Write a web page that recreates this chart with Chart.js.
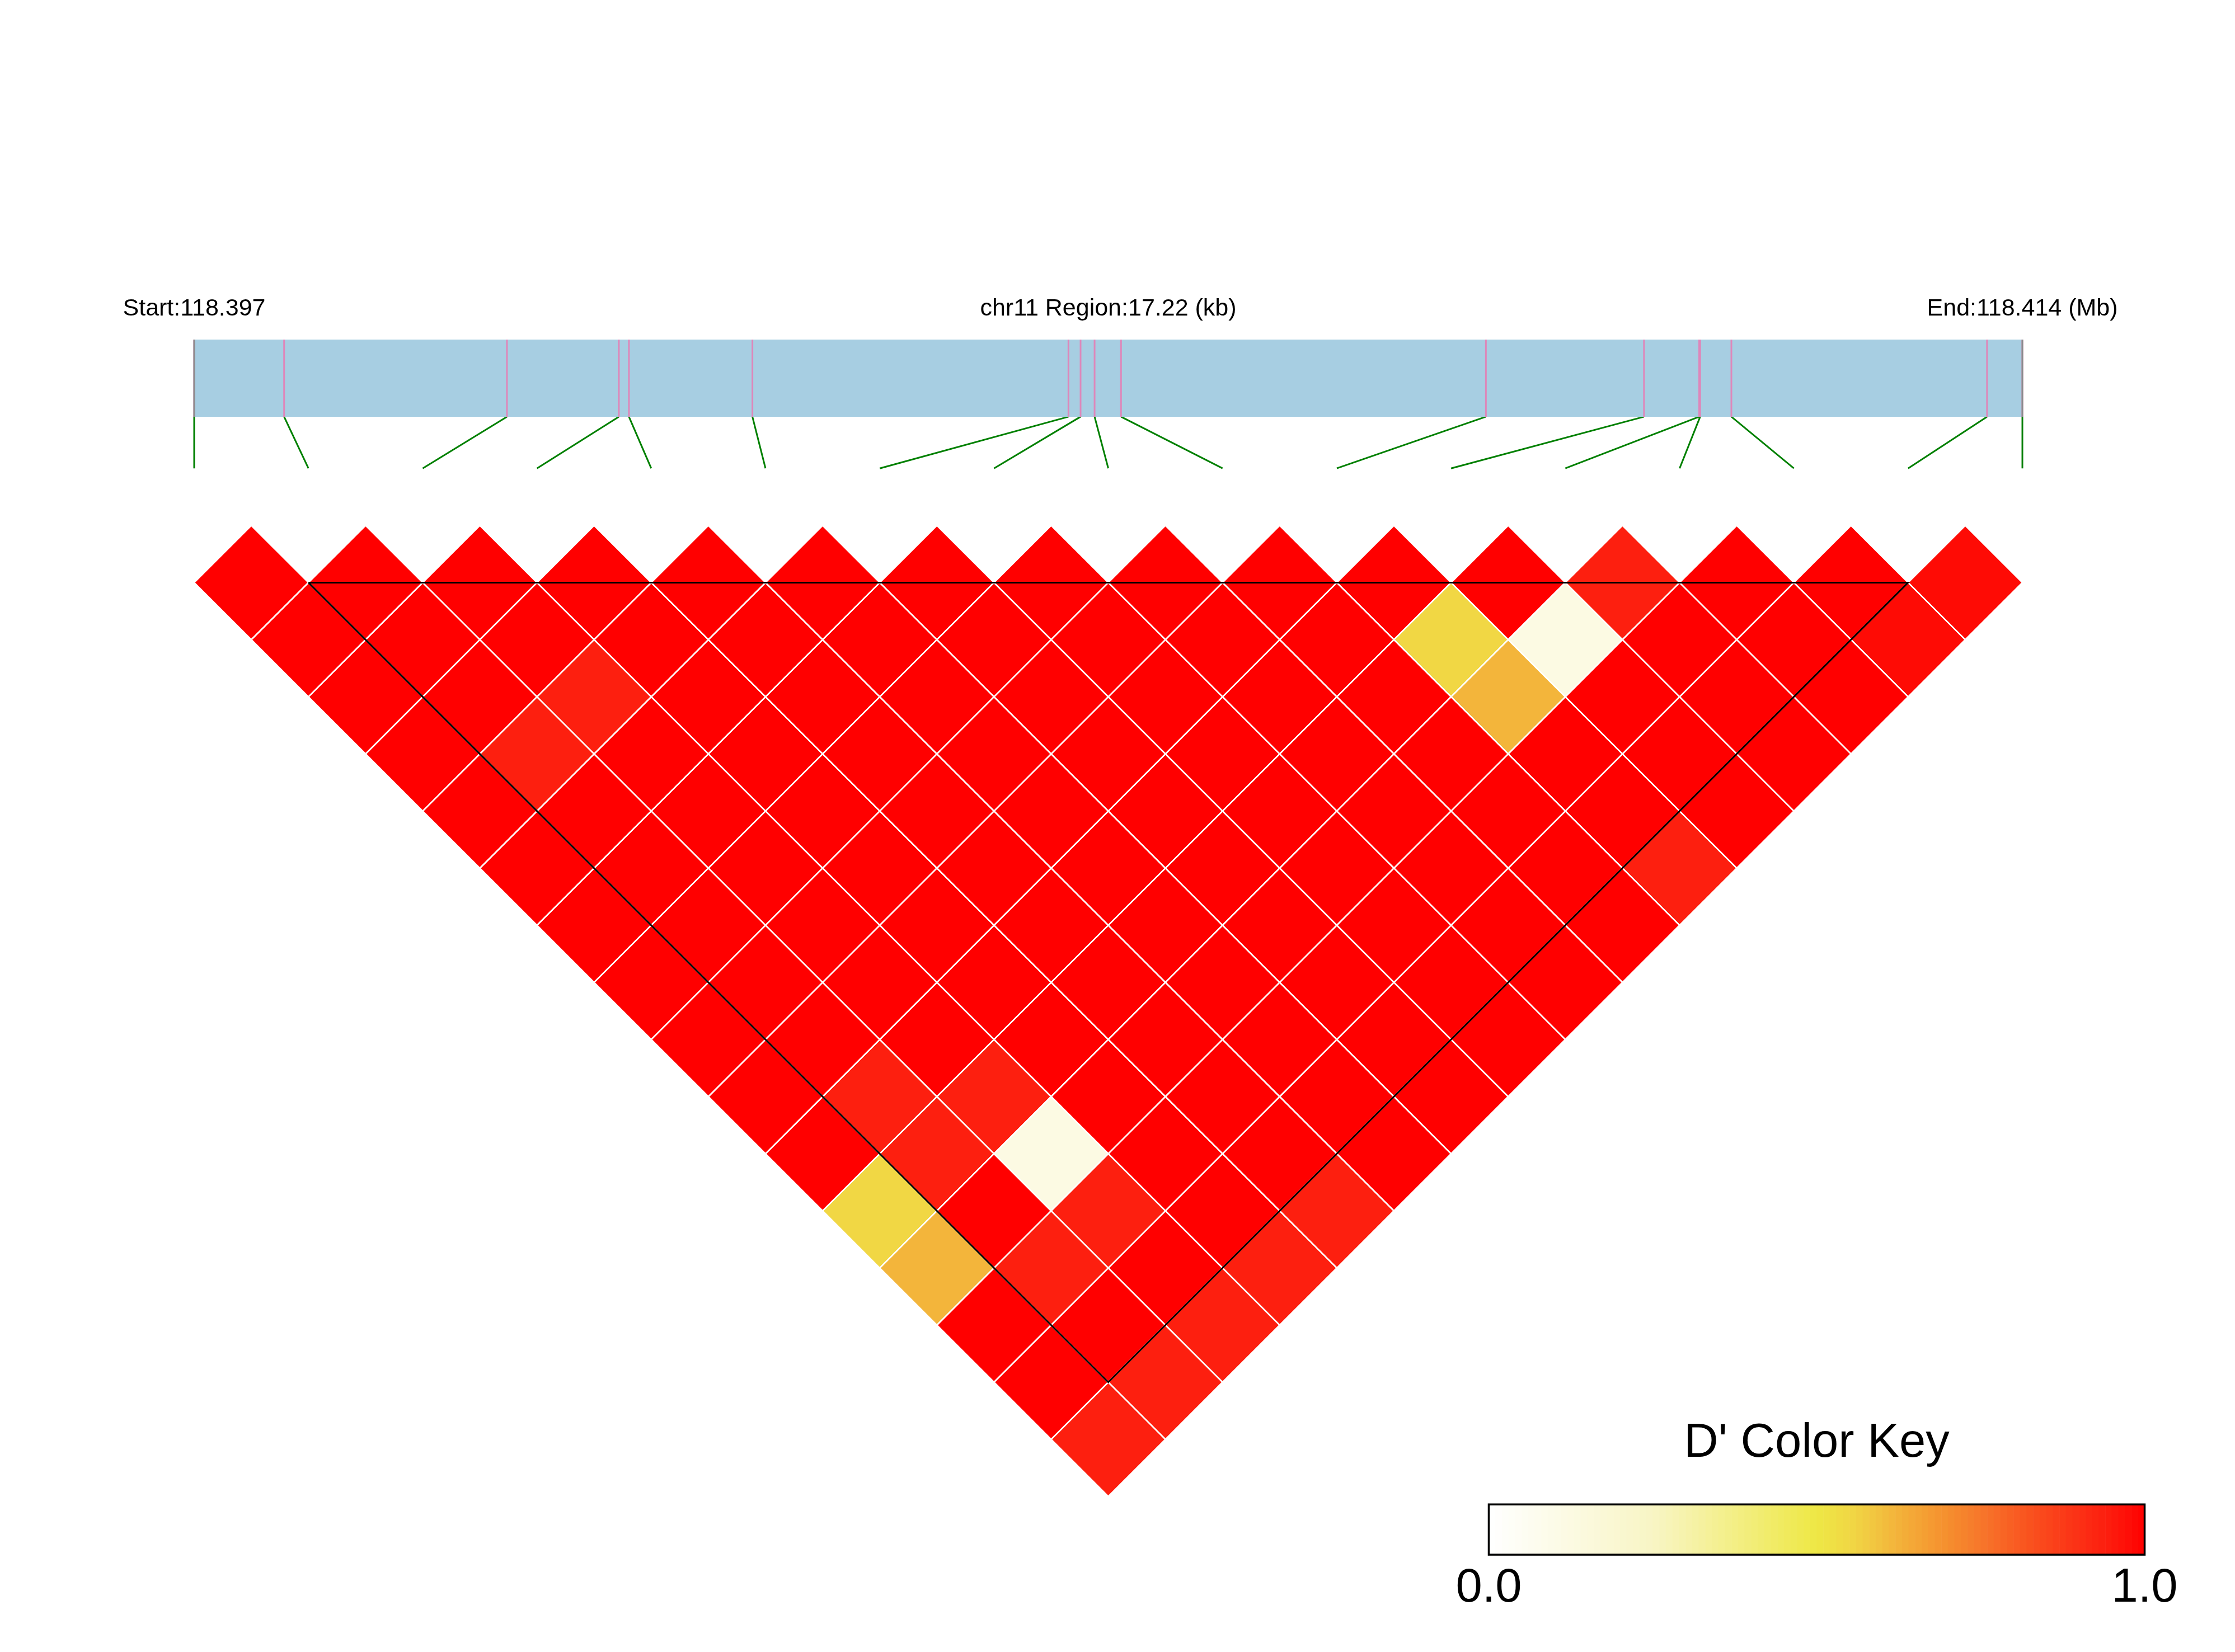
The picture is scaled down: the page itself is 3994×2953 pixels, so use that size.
<!DOCTYPE html>
<html>
<head>
<meta charset="utf-8">
<script src="https://cdn.jsdelivr.net/npm/chart.js@4.4.1/dist/chart.umd.min.js"></script>
<style>
  html, body { margin: 0; padding: 0; background: #ffffff; }
  #wrap { width: 3994px; height: 2953px; position: relative; }
</style>
</head>
<body>
<div id="wrap"><canvas id="c"></canvas></div>
<script>
// ---------------- DATA ----------------
const chromosome = 'chr11';
const regionStartMb = '118.397';
const regionEndMb = '118.414';
const regionKb = 17.22;
// SNP physical positions, kb from region start
const snpPosKb = [0, 0.847, 2.946, 4.000, 4.095, 5.258, 8.235, 8.349, 8.481, 8.730,
                  12.167, 13.656, 14.176, 14.185, 14.479, 16.887, 17.22];
// Pairwise D' : row i holds SNP pairs (i, j) for j = i+1 .. 16
const dPrimeRows = [
  [1, 1, 1, 1, 1, 1, 1, 1, 1, 1, 1, 0.55, 0.62, 1, 1, 0.94],
  [1, 1, 1, 0.94, 1, 1, 1, 1, 1, 0.94, 0.94, 1, 0.94, 1, 0.94],
  [1, 1, 0.94, 1, 1, 1, 1, 1, 1, 0.94, 0.12, 0.94, 1, 0.94],
  [1, 1, 1, 1, 1, 1, 1, 1, 1, 1, 1, 1, 0.94],
  [1, 1, 1, 1, 1, 1, 1, 1, 1, 1, 1, 0.94],
  [1, 1, 1, 1, 1, 1, 1, 1, 1, 1, 1],
  [1, 1, 1, 1, 1, 1, 1, 1, 1, 1],
  [1, 1, 1, 1, 1, 1, 1, 1, 1],
  [1, 1, 1, 1, 1, 1, 1, 1],
  [1, 1, 1, 1, 1, 1, 1],
  [1, 0.55, 0.62, 1, 1, 0.94],
  [1, 0.12, 1, 1, 1],
  [0.94, 1, 1, 1],
  [1, 1, 1],
  [1, 0.98],
  [0.98]
];
// LD block (first and last SNP index)
const blockSnps = [1, 15];
// colour key
const keyTitle = "D' Color Key";
const keyTickLabels = ['0.0', '1.0'];
const keyTickValues = [0, 1];
const colorStops = [
  [0.000, '#FFFFFF'], [0.250, '#F8F5C5'], [0.500, '#EEE845'], [0.560, '#F1D444'],
  [0.625, '#F3B23A'], [0.690, '#F5932F'], [0.756, '#F7742A'], [0.820, '#F9541F'],
  [0.887, '#FB3517'], [0.952, '#FD1A0D'], [1.000, '#FF0000']
];

// ---------------- LAYOUT (style only) ----------------
const W = 3994, H = 2953;
const X0 = 347, UNIT = 204.19, Y0 = 939.3;   // pixel of data (0,0) and px per data unit
const BAR_TOP = -1.627, BAR_BOT = -0.952, LINK_END = -0.5, HEAD_Y = -1.8365;
const KEY = { x0: 11.33, x1: 17.07, y0: 8.57, y1: 9.01, titleY: 8.153, tickY: 9.421 };
const FONT = '"Liberation Sans", Arial, Helvetica, sans-serif';

// ---------------- helpers ----------------
function hexToRgb(h) { return [parseInt(h.substr(1,2),16), parseInt(h.substr(3,2),16), parseInt(h.substr(5,2),16)]; }
function colorFor(v) {
  v = Math.max(0, Math.min(1, v));
  for (let k = 1; k < colorStops.length; k++) {
    const [t1, c1] = colorStops[k];
    if (v <= t1) {
      const [t0, c0] = colorStops[k-1];
      const f = (v - t0) / (t1 - t0);
      const a = hexToRgb(c0), b = hexToRgb(c1);
      const r = a.map((x, i) => Math.round(x + (b[i] - x) * f));
      return `rgb(${r[0]},${r[1]},${r[2]})`;
    }
  }
  return colorStops[colorStops.length-1][1];
}

const nGap = snpPosKb.length - 1;
const physX = snpPosKb.map(p => p / regionKb * nGap);

const cells = [];
dPrimeRows.forEach((row, i) => row.forEach((v, k) => {
  const j = i + 1 + k;
  cells.push({ x: (i + j) / 2, y: (j - i) / 2, v: v });
}));

const pinkData = [];
physX.forEach(p => { pinkData.push({x: p, y: BAR_TOP}, {x: p, y: BAR_BOT}, {x: p, y: NaN}); });
const edgeData = [
  {x: 0, y: BAR_TOP}, {x: 0, y: BAR_BOT}, {x: 0, y: NaN},
  {x: nGap, y: BAR_TOP}, {x: nGap, y: BAR_BOT}
];
const greenData = [];
physX.forEach((p, k) => { greenData.push({x: p, y: BAR_BOT}, {x: k, y: LINK_END}, {x: k, y: NaN}); });

const [ba, bb] = blockSnps;
const triData = [
  {x: ba, y: 0.5}, {x: bb, y: 0.5}, {x: (ba + bb) / 2, y: 0.5 + (bb - ba) / 2}, {x: ba, y: 0.5}
];

function halfDiag(chart) {
  const xs = chart.scales.x;
  return Math.abs(xs.getPixelForValue(0.5) - xs.getPixelForValue(0));
}

const annotPlugin = {
  id: 'annot',
  afterDatasetsDraw(chart) {
    const ctx = chart.ctx, xs = chart.scales.x, ys = chart.scales.y;
    ctx.save();
    ctx.fillStyle = '#000';
    ctx.textBaseline = 'alphabetic';
    ctx.textAlign = 'center';
    ctx.font = `43px ${FONT}`;
    const hy = ys.getPixelForValue(HEAD_Y);
    ctx.fillText('Start:' + regionStartMb, xs.getPixelForValue(0), hy);
    ctx.fillText(chromosome + ' Region:' + regionKb.toFixed(2) + ' (kb)', xs.getPixelForValue(nGap / 2), hy);
    ctx.fillText('End:' + regionEndMb + ' (Mb)', xs.getPixelForValue(nGap), hy);

    // colour key
    const kx0 = xs.getPixelForValue(KEY.x0), kx1 = xs.getPixelForValue(KEY.x1);
    const ky0 = ys.getPixelForValue(KEY.y0), ky1 = ys.getPixelForValue(KEY.y1);
    const steps = 100;
    for (let s = 0; s < steps; s++) {
      const a = kx0 + (kx1 - kx0) * s / steps;
      const b = kx0 + (kx1 - kx0) * (s + 1) / steps;
      ctx.fillStyle = colorFor((s + 0.5) / steps);
      ctx.fillRect(a, ky0, b - a + 0.6, ky1 - ky0);
    }
    ctx.strokeStyle = '#000';
    ctx.lineWidth = 3.5;
    ctx.strokeRect(kx0, ky0, kx1 - kx0, ky1 - ky0);
    ctx.fillStyle = '#000';
    ctx.font = `85px ${FONT}`;
    ctx.fillText(keyTitle, (kx0 + kx1) / 2, ys.getPixelForValue(KEY.titleY));
    keyTickLabels.forEach((lab, i) => {
      const px = kx0 + (kx1 - kx0) * keyTickValues[i];
      ctx.fillText(lab, px, ys.getPixelForValue(KEY.tickY));
    });
    ctx.restore();
  }
};

const noPts = { pointRadius: 0, pointHoverRadius: 0 };

new Chart(document.getElementById('c'), {
  type: 'line',
  data: {
    datasets: [
      Object.assign({ label: 'block', data: triData, borderColor: '#000000', borderWidth: 3,
        fill: false, tension: 0, borderJoinStyle: 'miter', order: 0 }, noPts),
      { label: 'cellBorders', data: cells, showLine: false, pointStyle: 'rectRot',
        pointRadius: ctx => halfDiag(ctx.chart), pointHoverRadius: ctx => halfDiag(ctx.chart),
        pointBackgroundColor: 'rgba(0,0,0,0)', pointBorderColor: '#FFFFFF', pointBorderWidth: 2.5,
        order: 1 },
      { label: 'cells', data: cells, showLine: false, pointStyle: 'rectRot',
        pointRadius: ctx => halfDiag(ctx.chart), pointHoverRadius: ctx => halfDiag(ctx.chart),
        pointBackgroundColor: ctx => colorFor(ctx.raw ? ctx.raw.v : 1),
        pointBorderColor: ctx => colorFor(ctx.raw ? ctx.raw.v : 1), pointBorderWidth: 0.6,
        order: 2 },
      Object.assign({ label: 'edges', data: edgeData, borderColor: '#8C8C8C', borderWidth: 3,
        spanGaps: false, fill: false, order: 3 }, noPts),
      Object.assign({ label: 'snpTicks', data: pinkData, borderColor: '#DE87BA', borderWidth: 3,
        spanGaps: false, fill: false, order: 4 }, noPts),
      Object.assign({ label: 'region', data: [{x: 0, y: BAR_TOP}, {x: nGap, y: BAR_TOP}],
        borderColor: 'rgba(0,0,0,0)', borderWidth: 0, backgroundColor: '#A7CEE2',
        fill: { value: BAR_BOT }, order: 5 }, noPts),
      Object.assign({ label: 'links', data: greenData, borderColor: '#008000', borderWidth: 3,
        spanGaps: false, fill: false, order: 6 }, noPts)
    ]
  },
  options: {
    responsive: true,
    maintainAspectRatio: false,
    animation: false,
    events: [],
    layout: { padding: 0 },
    plugins: { legend: { display: false }, tooltip: { enabled: false }, title: { display: false } },
    scales: {
      x: { type: 'linear', display: false, min: -X0 / UNIT, max: (W - X0) / UNIT },
      y: { type: 'linear', display: false, reverse: true, min: -Y0 / UNIT, max: (H - Y0) / UNIT }
    }
  },
  plugins: [annotPlugin]
});
</script>
</body>
</html>
